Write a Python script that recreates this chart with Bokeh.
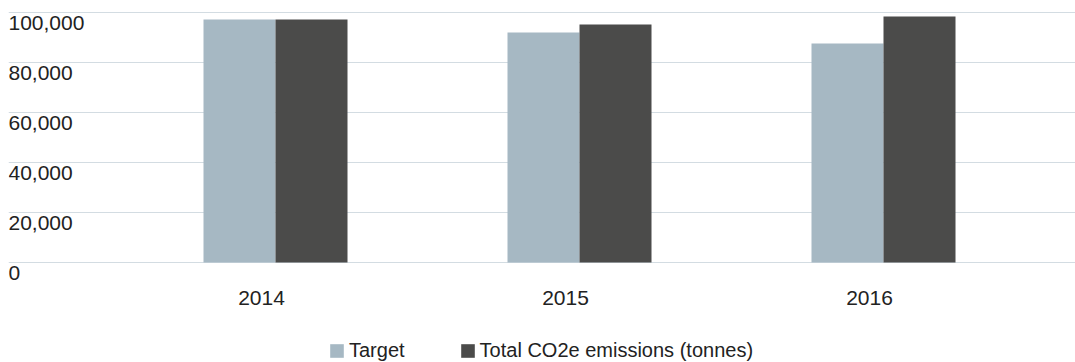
from bokeh.plotting import figure
from bokeh.models import ColumnDataSource, Range1d, FixedTicker, Legend, LegendItem
from bokeh.core.properties import value
from bokeh.embed import file_html
from bokeh.resources import INLINE

# ---- data ----
years = ["2014", "2015", "2016"]
target = [97200, 92000, 87600]
total_emissions = [97200, 95200, 98400]
y_ticks = [0, 20000, 40000, 60000, 80000, 100000]
y_tick_labels = ["0", "20,000", "40,000", "60,000", "80,000", "100,000"]
series_names = ["Target", "Total CO2e emissions (tonnes)"]

# ---- layout constants ----
W, H = 1075, 362
FONT = "Liberation Sans"
TXT = "#222222"
C_TARGET = "#a6b8c3"
C_TOTAL = "#4b4b4a"
PX_X = 1 / 304.0          # data units per pixel along x
PX_Y = 400.0              # data units per pixel along y
left_px, label_center_px = 8, 261
x_start = -(label_center_px - left_px) * PX_X
x_end = (W - label_center_px) * PX_X
y_end = 100000 + 12 * PX_Y
y_start = -100 * PX_Y

bar_w = 72 * PX_X
off_target = -22 * PX_X
off_total = 50 * PX_X

xs = list(range(len(years)))
src = ColumnDataSource(dict(
    x_t=[x + off_target for x in xs],
    x_e=[x + off_total for x in xs],
    target=target,
    total=total_emissions,
))

p = figure(width=W, height=H, output_backend="svg", toolbar_location=None,
           x_range=Range1d(x_start, x_end), y_range=Range1d(y_start, y_end),
           min_border_left=left_px, min_border_right=0, min_border_top=0,
           min_border_bottom=0)
p.outline_line_color = None
p.background_fill_color = "white"
p.border_fill_color = "white"
p.xaxis.visible = False
p.yaxis.visible = False
p.xgrid.visible = False
p.ygrid.ticker = FixedTicker(ticks=y_ticks)
p.ygrid.grid_line_color = "#d3dce2"
p.ygrid.grid_line_width = 1.2

r1 = p.vbar(x="x_t", top="target", bottom=0, width=bar_w, source=src,
            fill_color=C_TARGET, line_color=None)
r2 = p.vbar(x="x_e", top="total", bottom=0, width=bar_w, source=src,
            fill_color=C_TOTAL, line_color=None)

# y tick labels (hanging below each gridline, left aligned)
p.text(x=[x_start] * len(y_ticks), y=y_ticks, text=y_tick_labels,
       text_font=value(FONT), text_font_size="21px", text_color=TXT,
       text_align="left", text_baseline="top", y_offset=3)

# x category labels
p.text(x=xs, y=[-28 * PX_Y] * len(xs), text=years,
       text_font=value(FONT), text_font_size="21px", text_color=TXT,
       text_align="center", text_baseline="top")

legend = Legend(items=[LegendItem(label=series_names[0], renderers=[r1]),
                       LegendItem(label=series_names[1], renderers=[r2])],
                orientation="horizontal", location=(320, 0),
                glyph_width=17, glyph_height=17, label_standoff=4, spacing=54,
                padding=0, margin=0, border_line_color=None,
                background_fill_alpha=0,
                label_text_font=FONT, label_text_font_size="20px",
                label_text_color=TXT)
p.add_layout(legend, "center")

open("out.html", "w").write(file_html(p, INLINE))
